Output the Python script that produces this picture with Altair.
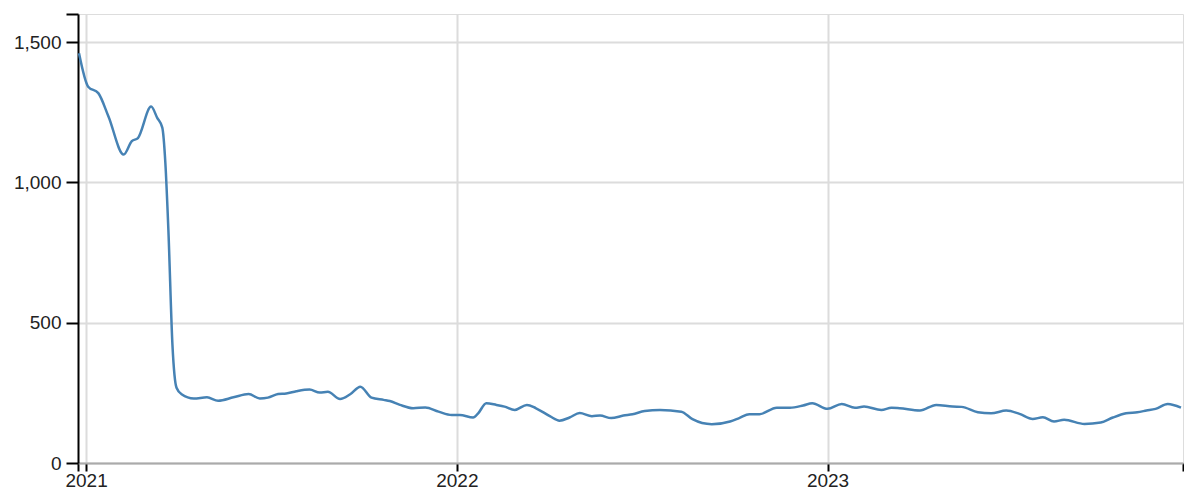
import altair as alt
import pandas as pd

dates = [
    "2020-12-25", "2021-01-03", "2021-01-13", "2021-01-23", "2021-02-07", "2021-02-15",
    "2021-02-21", "2021-03-06", "2021-03-12", "2021-03-17", "2021-03-20", "2021-03-23",
    "2021-03-27", "2021-03-31", "2021-04-05", "2021-04-17", "2021-04-30", "2021-05-11",
    "2021-05-26", "2021-06-10", "2021-06-21", "2021-06-29", "2021-07-09", "2021-07-17",
    "2021-07-27", "2021-08-09", "2021-08-19", "2021-08-27", "2021-09-08", "2021-09-18",
    "2021-09-28", "2021-10-09", "2021-10-21", "2021-10-27", "2021-11-06", "2021-11-19",
    "2021-12-01", "2021-12-14", "2021-12-27", "2022-01-04", "2022-01-17", "2022-01-22",
    "2022-01-30", "2022-02-09", "2022-02-17", "2022-02-27", "2022-03-11", "2022-03-20",
    "2022-04-03", "2022-04-12", "2022-04-22", "2022-05-02", "2022-05-14", "2022-05-22",
    "2022-06-02", "2022-06-14", "2022-06-23", "2022-07-05", "2022-07-20", "2022-08-10",
    "2022-08-21", "2022-09-09", "2022-09-27", "2022-10-06", "2022-10-16", "2022-10-26",
    "2022-11-12", "2022-11-25", "2022-12-08", "2022-12-17", "2023-01-01", "2023-01-15",
    "2023-01-28", "2023-02-06", "2023-02-23", "2023-03-05", "2023-03-13", "2023-04-02",
    "2023-04-18", "2023-05-04", "2023-05-13", "2023-05-29", "2023-06-11", "2023-06-26",
    "2023-07-09", "2023-07-22", "2023-08-01", "2023-08-12", "2023-08-22", "2023-09-11",
    "2023-09-27", "2023-10-09", "2023-10-22", "2023-11-02", "2023-11-11", "2023-11-20",
    "2023-12-02", "2023-12-15",
]
values = [
    1460, 1341, 1318, 1235, 1099, 1147,
    1158, 1270, 1230, 1195, 1070, 830,
    420, 268, 245, 230, 234, 222,
    234, 246, 230, 233, 246, 248,
    256, 262, 251, 254, 228, 245,
    272, 233, 225, 221, 207, 195,
    198, 183, 171, 171, 162, 177,
    213, 207, 201, 189, 207, 195,
    166, 151, 162, 178, 167, 169,
    160, 169, 174, 185, 189, 183,
    156, 138, 148, 160, 174, 174,
    197, 197, 205, 213, 193, 210,
    197, 201, 189, 197, 195, 187,
    207, 201, 200, 181, 177, 187,
    175, 157, 163, 148, 154, 139,
    144, 162, 177, 181, 187, 193,
    210, 197,
]

y_ticks = [0, 500, 1000, 1500, 1600]

df = pd.DataFrame({"date": pd.to_datetime(dates), "value": values})

x_domain = [alt.DateTime(year=2020, month=12, date=24), alt.DateTime(year=2023, month=12, date=17)]
x_ticks = [
    alt.DateTime(year=2020, month=12, date=24),
    alt.DateTime(year=2021, month=1, date=1),
    alt.DateTime(year=2022, month=1, date=1),
    alt.DateTime(year=2023, month=1, date=1),
    alt.DateTime(year=2023, month=12, date=17),
]

is_year = "month(datum.value) == 0 && date(datum.value) == 1"

font = "Liberation Sans"

chart = (
    alt.Chart(df)
    .mark_line(color="#4682b4", strokeWidth=2.5, interpolate="monotone")
    .encode(
        x=alt.X(
            "date:T",
            scale=alt.Scale(domain=x_domain, nice=False),
            axis=alt.Axis(
                title=None,
                values=x_ticks,
                labelExpr=f"({is_year}) ? timeFormat(datum.value, '%Y') : ''",
                grid=True,
                gridColor="#dcdcdc",
                gridWidth=2,
                gridOpacity={"condition": {"test": is_year, "value": 1}, "value": 0},
                domainColor="#aaaaaa",
                domainWidth=2,
                tickColor="#000000",
                tickWidth=2,
                tickSize=8,
                labelFontSize=19,
                labelFont=font,
                labelColor="#222222",
                labelPadding=0,
                labelFlush=False,
                labelOverlap=False,
            ),
        ),
        y=alt.Y(
            "value:Q",
            scale=alt.Scale(domain=[0, 1600], nice=False),
            axis=alt.Axis(
                title=None,
                values=y_ticks,
                labelExpr="datum.value == 1600 ? '' : format(datum.value, ',')",
                grid=True,
                gridColor="#dcdcdc",
                gridWidth=2,
                gridOpacity={"condition": {"test": "datum.value == 1600", "value": 0}, "value": 1},
                domainColor="#000000",
                domainWidth=2,
                tickColor="#000000",
                tickWidth=2,
                tickSize=12,
                labelFontSize=19,
                labelFont=font,
                labelColor="#222222",
                labelPadding=5,
                labelOverlap=False,
            ),
        ),
    )
    .properties(
        width=1105,
        height=449,
        autosize=alt.AutoSizeParams(type="none"),
        padding={"left": 70, "top": 6, "right": 1, "bottom": 26},
    )
    .configure_view(stroke=None)
    .configure(background="white")
)

chart.save("out.html", embed_options={"renderer": "svg", "actions": False})
